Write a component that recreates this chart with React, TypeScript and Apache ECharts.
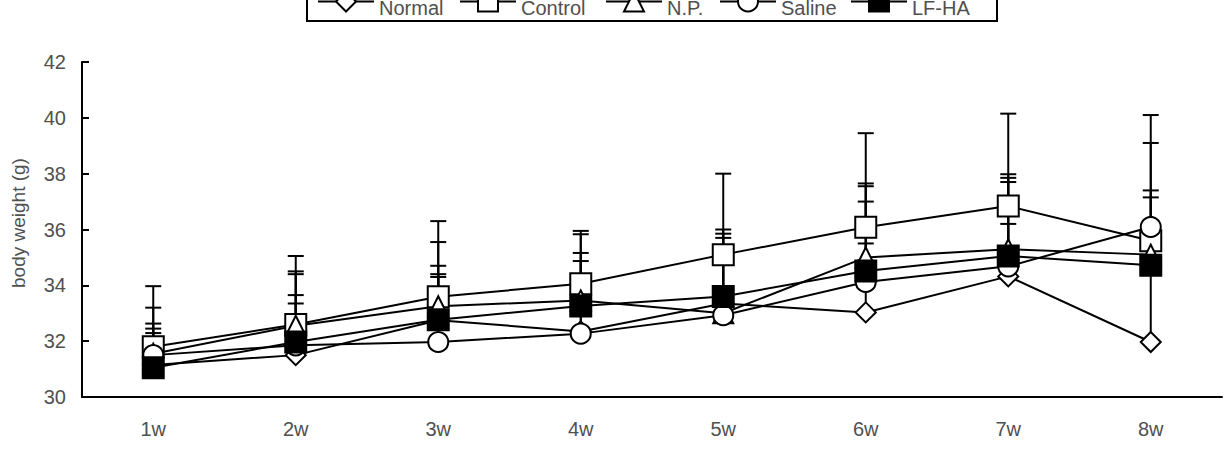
import React, { useEffect, useRef } from "react";
import * as echarts from "echarts";

// Weekly body weight (g), mean values per group
const weeks = ["1w", "2w", "3w", "4w", "5w", "6w", "7w", "8w"];
const groupNames = ["Normal", "Control", "N.P.", "Saline", "LF-HA"];

const normalMean = [31.15, 31.5, 32.75, 32.35, 33.35, 33.03, 34.32, 31.97];
const controlMean = [31.8, 32.6, 33.59, 34.06, 35.1, 36.08, 36.84, 35.6];
const npMean = [31.55, 32.55, 33.25, 33.46, 33.0, 35.0, 35.29, 35.1];
const salineMean = [31.5, 31.85, 31.97, 32.27, 32.93, 34.12, 34.68, 36.09];
const lfhaMean = [31.05, 31.97, 32.77, 33.26, 33.6, 34.51, 35.05, 34.72];

// Standard deviations (upper error bars)
const normalSd = [2.05, 2.9, 1.65, 3.48, 2.5, 2.47, 1.88, 5.18];
const controlSd = [2.17, 2.45, 2.71, 1.89, 2.9, 3.37, 3.31, 4.5];
const npSd = [0.9, 1.1, 1.45, 1.41, 2.7, 2.55, 2.56, 2.3];
const salineSd = [1.13, 2.65, 3.58, 2.89, 3.07, 3.53, 3.3, 3.01];
const lfhaSd = [1.24, 1.38, 1.53, 0.64, 1.4, 2.49, 2.65, 1.48];

// Y axis range
const yMin = 30;
const yMax = 42;
const yStep = 2;

const FONT = '"Liberation Sans", Arial, sans-serif';
const TEXT_COLOR = "#505050";

const means = [normalMean, controlMean, npMean, salineMean, lfhaMean];
const sds = [normalSd, controlSd, npSd, salineSd, lfhaSd];
const symbols = ["diamond", "rect", "triangle", "circle", "rect"];
const symbolSizes = [20, 21, 20, 20, 21];
const fills = ["#fff", "#fff", "#fff", "#fff", "#000"];

// legend item icon centres (px)
const legendCenters = [345, 487, 633, 747, 878];
const LEGEND_ICON_W = 56;

export default function App() {
  const ref = useRef<HTMLDivElement>(null);

  useEffect(() => {
    if (!ref.current) return;
    document.body.style.margin = "0";
    const chart = echarts.init(ref.current, undefined, { renderer: "svg" });

    const lineSeries = groupNames.map((name, g) => ({
      name,
      type: "line",
      data: means[g],
      symbol: symbols[g],
      symbolSize: symbolSizes[g],
      showAllSymbol: true,
      z: 3,
      lineStyle: { color: "#000", width: 2 },
      itemStyle: { color: fills[g], borderColor: "#000", borderWidth: 2, opacity: 1 },
      emphasis: { disabled: true },
    }));

    const errorSeries = groupNames.map((name, g) => ({
      name: name + " SD",
      type: "custom",
      z: 1,
      silent: true,
      encode: { x: 0, y: [1, 2] },
      data: weeks.map((_, i) => [i, means[g][i], means[g][i] + sds[g][i]]),
      renderItem: (_params: any, api: any) => {
        const x = api.value(0);
        const p0 = api.coord([x, api.value(1)]);
        const p1 = api.coord([x, api.value(2)]);
        const hw = 8;
        return {
          type: "group",
          children: [
            {
              type: "line",
              shape: { x1: p0[0], y1: p0[1], x2: p1[0], y2: p1[1] },
              style: { stroke: "#000", lineWidth: 2 },
            },
            {
              type: "line",
              shape: { x1: p1[0] - hw, y1: p1[1], x2: p1[0] + hw, y2: p1[1] },
              style: { stroke: "#000", lineWidth: 2 },
            },
          ],
        };
      },
    }));

    const legends = groupNames.map((name, g) => ({
      data: [name],
      left: legendCenters[g] - LEGEND_ICON_W / 2,
      top: -9.5,
      padding: 0,
      itemGap: 0,
      itemWidth: LEGEND_ICON_W,
      itemHeight: 25,
      selectedMode: false,
      z: 5,
      formatter: "{t|{name}}",
      textStyle: {
        fontFamily: FONT,
        fontSize: 20,
        color: TEXT_COLOR,
        rich: {
          t: {
            fontFamily: FONT,
            fontSize: 20,
            color: TEXT_COLOR,
            padding: [13, 0, 0, 0],
          },
        },
      },
    }));

    chart.setOption({
      animation: false,
      backgroundColor: "#fff",
      grid: { left: 82, right: 10, top: 62, bottom: 64, containLabel: false },
      legend: legends,
      graphic: {
        elements: [
          {
            type: "rect",
            z: 0,
            shape: { x: 307, y: -10, width: 690, height: 31 },
            style: { fill: "#fff", stroke: "#000", lineWidth: 2 },
            silent: true,
          },
          {
            type: "text",
            x: 18,
            y: 223,
            rotation: Math.PI / 2,
            silent: true,
            style: {
              text: "body weight (g)",
              fontFamily: FONT,
              fontSize: 19,
              fill: TEXT_COLOR,
              align: "center",
              verticalAlign: "middle",
            },
          },
        ],
      },
      xAxis: {
        type: "category",
        data: weeks,
        boundaryGap: true,
        axisLine: { lineStyle: { color: "#000", width: 2 } },
        axisTick: { inside: true, length: 6, lineStyle: { color: "#000", width: 2 } },
        axisLabel: { color: TEXT_COLOR, fontFamily: FONT, fontSize: 20, margin: 22 },
        splitLine: { show: false },
      },
      yAxis: {
        type: "value",
        min: yMin,
        max: yMax,
        interval: yStep,
        axisLine: { show: true, lineStyle: { color: "#000", width: 2 } },
        axisTick: { show: true, inside: true, length: 7, lineStyle: { color: "#000", width: 2 } },
        axisLabel: { color: TEXT_COLOR, fontFamily: FONT, fontSize: 20, margin: 16 },
        splitLine: { show: false },
      },
      series: [...errorSeries, ...lineSeries],
    });

    return () => chart.dispose();
  }, []);

  return (
    <div
      ref={ref}
      style={{ position: "absolute", left: 0, top: 0, width: 1232, height: 461 }}
    />
  );
}
